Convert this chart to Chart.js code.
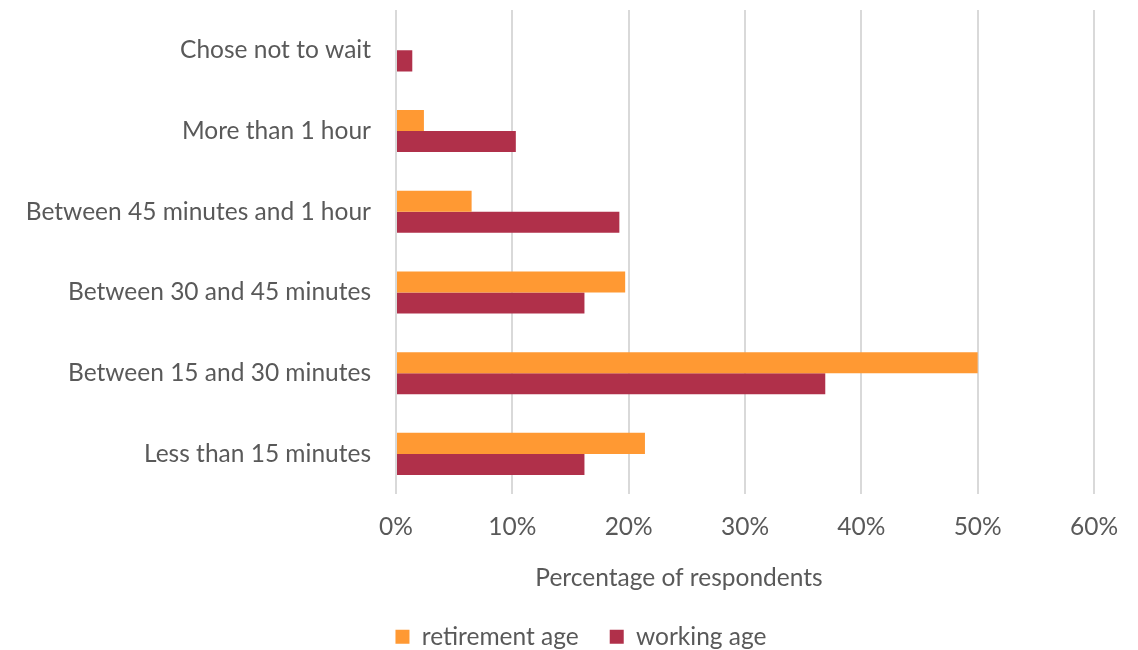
<!DOCTYPE html>
<html>
<head>
<meta charset="utf-8">
<script src="https://cdn.jsdelivr.net/npm/chart.js@4/dist/chart.umd.min.js"></script>
<style>
  html, body { margin: 0; padding: 0; background: #ffffff; overflow: hidden; }
  #wrap { width: 1138px; height: 659px; }
</style>
</head>
<body>
<div id="wrap"><canvas id="chart" width="1138" height="659"></canvas></div>
<script>
// Waiting time categories, listed top to bottom
const categories = [
  'Chose not to wait',
  'More than 1 hour',
  'Between 45 minutes and 1 hour',
  'Between 30 and 45 minutes',
  'Between 15 and 30 minutes',
  'Less than 15 minutes'
];

// Share of respondents (%) per age group
const retirementAge = [0, 2.4, 6.5, 19.7, 50.0, 21.4];
const workingAge    = [1.4, 10.3, 19.2, 16.2, 36.9, 16.2];

const seriesNames = ['retirement age', 'working age'];
const xTickValues = [0, 10, 20, 30, 40, 50, 60];
const xAxisTitle  = 'Percentage of respondents';

const FONT_FAMILY = 'Lato, "Open Sans", "DejaVu Sans", sans-serif';
const FONT_SIZE = 24.5;
const TEXT_COLOR = '#595959';

// Axis title under the tick labels, and a legend centred under the labels+plot block
const layoutPlugin = {
  id: 'axisTitleAndLegend',
  afterLayout(chart) {
    const lg = chart.legend;
    if (!lg) return;
    const dx = 581 - (lg.left + lg.right) / 2;
    lg.left += dx;
    lg.right += dx;
  },
  afterDraw(chart) {
    const { ctx } = chart;
    ctx.save();
    ctx.font = FONT_SIZE + 'px ' + FONT_FAMILY;
    ctx.fillStyle = TEXT_COLOR;
    ctx.textAlign = 'center';
    ctx.textBaseline = 'middle';
    ctx.fillText(xAxisTitle, 679, 578);
    ctx.restore();
  }
};

new Chart(document.getElementById('chart'), {
  type: 'bar',
  data: {
    labels: categories,
    datasets: [
      { label: seriesNames[0], data: retirementAge, backgroundColor: '#FF9933' },
      { label: seriesNames[1], data: workingAge, backgroundColor: '#B0304A' }
    ]
  },
  options: {
    indexAxis: 'y',
    responsive: false,
    animation: false,
    layout: { padding: { top: 10, left: 0, right: 44, bottom: 0 } },
    datasets: { bar: { categoryPercentage: 0.521, barPercentage: 1, borderWidth: 0 } },
    scales: {
      x: {
        min: 0,
        max: 60,
        afterBuildTicks(scale) { scale.ticks = xTickValues.map(v => ({ value: v })); },
        afterFit(scale) { scale.height = 99.25; },
        ticks: {
          padding: 18,
          color: TEXT_COLOR,
          font: { family: FONT_FAMILY, size: FONT_SIZE },
          callback: v => v + '%'
        },
        grid: { color: '#D9D9D9', lineWidth: 2, drawTicks: false },
        border: { display: false }
      },
      y: {
        afterFit(scale) { scale.width = 396; scale.paddingTop = 0; scale.paddingBottom = 0; },
        ticks: {
          padding: 25,
          color: TEXT_COLOR,
          font: { family: FONT_FAMILY, size: FONT_SIZE }
        },
        grid: { display: false, drawTicks: false },
        border: { display: false }
      }
    },
    plugins: {
      legend: {
        position: 'bottom',
        labels: {
          boxWidth: 14,
          boxHeight: 14,
          padding: 31,
          color: TEXT_COLOR,
          font: { family: FONT_FAMILY, size: FONT_SIZE }
        }
      },
      tooltip: { enabled: false }
    }
  },
  plugins: [layoutPlugin]
});
</script>
</body>
</html>
